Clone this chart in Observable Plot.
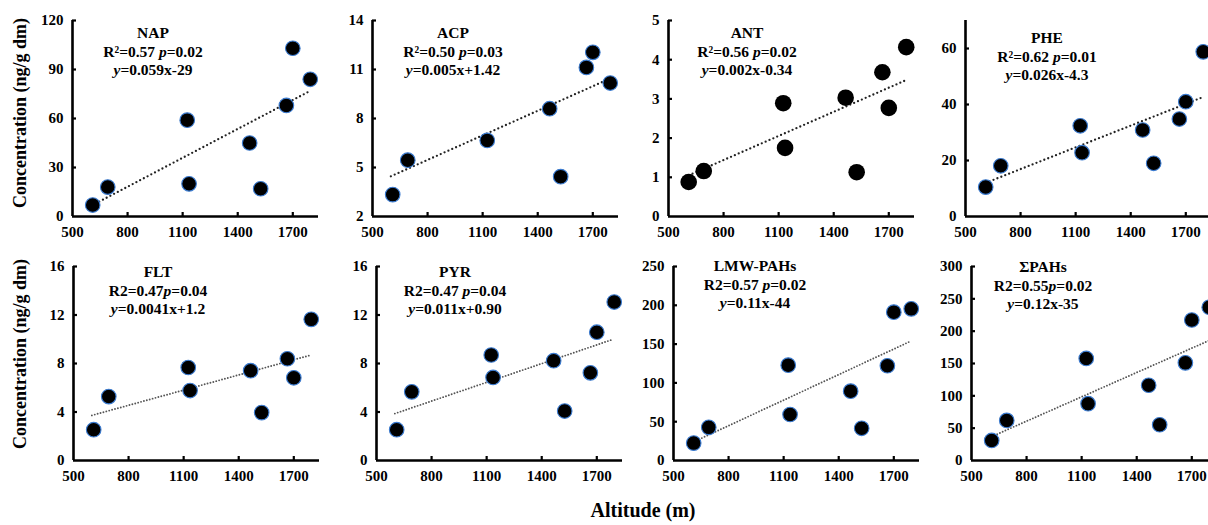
<!DOCTYPE html>
<html><head><meta charset="utf-8">
<script src="https://cdn.jsdelivr.net/npm/d3@7"></script>
<script src="https://cdn.jsdelivr.net/npm/@observablehq/plot@0.6"></script>
<style>
html,body{margin:0;padding:0;background:#fff;}
#chart{position:relative;width:1208px;height:525px;overflow:hidden;font-family:"Liberation Serif","Times New Roman",serif;font-weight:bold;color:#000;}
.panel{position:absolute;}
.ann{position:absolute;transform:translateX(-50%);text-align:center;white-space:nowrap;font-size:15.5px;line-height:18.5px;}
.ylab{position:absolute;font-size:18px;white-space:nowrap;transform:translate(-50%,-50%) rotate(-90deg);}
.xlab{position:absolute;font-size:20px;transform:translate(-50%,-50%);white-space:nowrap;}
</style></head><body><div id="chart"></div>
<script>
// ---- data ----
const altitude = [610, 692, 1125, 1135, 1465, 1525, 1665, 1700, 1795];
const NAP = [7, 18, 59, 20, 45, 17, 68, 103, 84];
const ACP = [3.34, 5.45, 6.66, null, 8.6, 4.44, 11.13, 12.05, 10.17];
const ANT = [0.88, 1.16, 2.89, 1.75, 3.03, 1.13, 3.68, 2.77, 4.32];
const PHE = [10.5, 18.1, 32.4, 22.8, 30.9, 19.0, 34.8, 41.0, 58.8];
const FLT = [2.54, 5.27, 7.67, 5.77, 7.41, 3.95, 8.39, 6.82, 11.64];
const PYR = [2.54, 5.66, 8.70, 6.85, 8.23, 4.08, 7.23, 10.58, 13.07];
const LMW = [22.4, 42.7, 122.9, 59.3, 89.4, 41.5, 122.1, 191.2, 195.4];
const SUM = [31, 62, 157.8, 87.9, 116.4, 55.3, 151, 217.3, 237];
const seriesValues = [NAP, ACP, ANT, PHE, FLT, PYR, LMW, SUM];

const compounds = ["NAP", "ACP", "ANT", "PHE", "FLT", "PYR", "LMW-PAHs", "ΣPAHs"];
const r2Labels = ["R²=0.57 ", "R²=0.50 ", "R²=0.56 ", "R²=0.62 ", "R2=0.47", "R2=0.47 ", "R2=0.57 ", "R2=0.55"];
const pLabels = ["=0.02", "=0.03", "=0.02", "=0.01", "=0.04", "=0.04", "=0.02", "=0.02"];
const equations = ["=0.059x-29", "=0.005x+1.42", "=0.002x-0.34", "=0.026x-4.3", "=0.0041x+1.2", "=0.011x+0.90", "=0.11x-44", "=0.12x-35"];

// trend line end points
const trendFrom = [605, 600, 610, 610, 600, 600, 610, 610];
const trendFromValue = [6.7, 4.46, 1.05, 12.0, 3.72, 3.87, 24, 37];
const trendTo = [1785, 1785, 1800, 1800, 1789, 1790, 1785, 1798];
const trendToValue = [76.3, 10.4, 3.49, 42.8, 8.68, 10.0, 153, 186];

const xTicks = [500, 800, 1100, 1400, 1700];
const yTicks = [[0,30,60,90,120],[2,5,8,11,14],[0,1,2,3,4,5],[0,20,40,60],[0,4,8,12,16],[0,4,8,12,16],[0,50,100,150,200,250],[0,50,100,150,200,250,300]];
const yDomains = [[0,120],[2,14],[0,5],[0,70],[0,16],[0,16],[0,250],[0,300]];
const xDomain = [500, 1840];
const yTitle = "Concentration (ng/g dm)";
const xTitle = "Altitude (m)";

// ---- layout ----
const axisLeft = [72, 372, 668, 965, 73, 376, 673, 971];
const rowTop = [20, 266];      // page y of top of plot area
const rowInner = [196, 194];   // inner plot height
const annX = [153, 453, 747, 1047, 158, 455, 755, 1043];
const annY = [24, 24, 24, 29, 263, 263, 257, 258];

const chart = document.getElementById("chart");
const ML = 50, MR = 10, MT = 10, MB = 30, IW = 246, TICK = 4;
const fmt = d => String(d);

compounds.forEach((name, i) => {
  const row = i < 4 ? 0 : 1;
  const IH = rowInner[row];
  const data = altitude.map((a, j) => ({altitude: a, value: seriesValues[i][j]})).filter(d => d.value != null);
  const trend = [{altitude: trendFrom[i], value: trendFromValue[i]}, {altitude: trendTo[i], value: trendToValue[i]}];
  const ymin = yDomains[i][0];
  const isANT = name === "ANT";
  const plot = Plot.plot({
    width: ML + IW + MR,
    height: MT + IH + MB,
    marginLeft: ML, marginRight: MR, marginTop: MT, marginBottom: MB,
    style: {fontFamily: '"Liberation Serif","Times New Roman",serif', fontWeight: "bold", fontSize: "15px", color: "#000", background: "transparent", overflow: "visible"},
    x: {domain: xDomain},
    y: {domain: yDomains[i]},
    marks: [
      Plot.axisX({ticks: xTicks, tickSize: 0, tickPadding: 10, tickFormat: fmt, label: null, fontSize: 15}),
      Plot.axisY({ticks: yTicks[i], tickSize: 0, tickPadding: 9, tickFormat: fmt, label: null, fontSize: 15}),
      // inward tick marks
      Plot.ruleX(xTicks.slice(1), {x: d => d, insetTop: IH - TICK, strokeWidth: 2.2, stroke: "#000"}),
      Plot.ruleY(yTicks[i].slice(1), {y: d => d, insetRight: IW - TICK, strokeWidth: 2.2, stroke: "#000"}),
      // axis lines
      Plot.ruleX([xDomain[0]], {strokeWidth: 2.6, stroke: "#000"}),
      Plot.ruleY([ymin], {strokeWidth: 2.6, stroke: "#000"}),
      Plot.line(trend, {x: "altitude", y: "value", stroke: row === 0 ? "#222" : "#555", strokeWidth: row === 0 ? 2.3 : 1.9, strokeLinecap: "round", strokeDasharray: row === 0 ? "0 4.2" : "0 3"}),
      Plot.dot(data, {x: "altitude", y: "value", r: isANT ? 8.3 : 7.3, fill: "#000", stroke: isANT ? "none" : "#3b7bd0", strokeWidth: 1.1})
    ]
  });
  plot.classList.add("panel");
  plot.style.left = (axisLeft[i] - ML) + "px";
  plot.style.top = (rowTop[row] - MT) + "px";
  chart.appendChild(plot);

  const ann = document.createElement("div");
  ann.className = "ann";
  ann.style.left = annX[i] + "px";
  ann.style.top = annY[i] + "px";
  ann.innerHTML = `<div>${name}</div><div>${r2Labels[i]}<i>p</i>${pLabels[i]}</div><div><i>y</i>${equations[i]}</div>`;
  chart.appendChild(ann);
});

[113, 354].forEach(cy => {
  const yl = document.createElement("div");
  yl.className = "ylab";
  yl.style.left = "20px";
  yl.style.top = cy + "px";
  yl.textContent = yTitle;
  chart.appendChild(yl);
});
const xl = document.createElement("div");
xl.className = "xlab";
xl.style.left = "643px";
xl.style.top = "510px";
xl.textContent = xTitle;
chart.appendChild(xl);
</script></body></html>
